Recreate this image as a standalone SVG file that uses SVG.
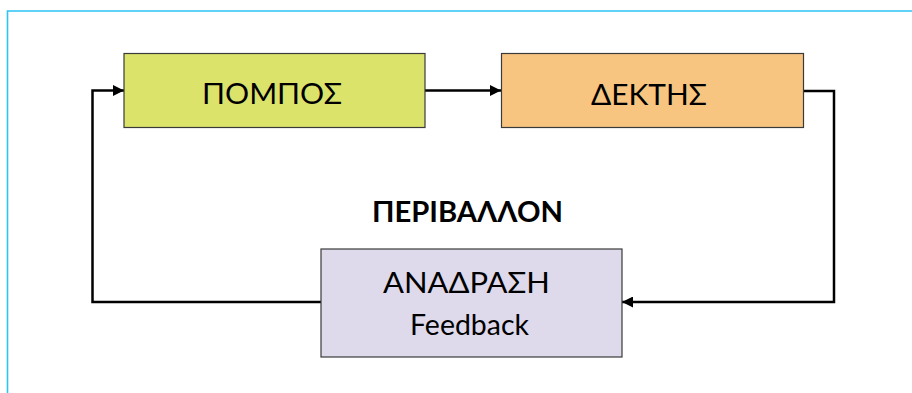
<svg xmlns="http://www.w3.org/2000/svg" width="912" height="393" viewBox="0 0 912 393">
<defs>
<style>
.box{stroke:#3a3a3a;stroke-width:1.2}
.lbl{font-family:"Lato","Open Sans","Liberation Sans",sans-serif;font-size:28px;fill:#000;text-anchor:middle}
.conn{fill:none;stroke:#000;stroke-width:2.5}
</style>
<marker id="arr" viewBox="0 0 10 10" refX="10" refY="5" markerWidth="4.4" markerHeight="4.4" orient="auto" markerUnits="strokeWidth">
<path d="M0,0 L10,5 L0,10 z" fill="#000"/>
</marker>
</defs>
<rect width="912" height="393" fill="#fff"/>
<path d="M7.5,393 V11 H912" fill="none" stroke="#2cc3f5" stroke-width="1.6"/>
<g id="connectors">
<path class="conn" d="M425,90.5 H501" marker-end="url(#arr)"/>
<path class="conn" d="M803,91 H834 V302 H622" marker-end="url(#arr)"/>
<path class="conn" d="M321,302 H92.5 V90.5 H124" marker-end="url(#arr)"/>
</g>
<g id="pompos">
<rect class="box" x="124" y="53.5" width="301" height="74" fill="#dce36a"/>
<text class="lbl" x="272" y="104" textLength="140" lengthAdjust="spacingAndGlyphs">ΠΟΜΠΟΣ</text>
</g>
<g id="dektis">
<rect class="box" x="501.5" y="53.5" width="302" height="74" fill="#f8c581"/>
<text class="lbl" x="649" y="105" textLength="116" lengthAdjust="spacingAndGlyphs">ΔΕΚΤΗΣ</text>
</g>
<g id="perivallon">
<text class="lbl" x="467.5" y="222" style="font-weight:bold;font-size:29px" textLength="191" lengthAdjust="spacingAndGlyphs">ΠΕΡΙΒΑΛΛΟΝ</text>
</g>
<g id="anadrasi">
<rect class="box" x="321" y="249" width="301" height="108" fill="#dedaeb"/>
<text class="lbl" x="466.5" y="293" textLength="167" lengthAdjust="spacingAndGlyphs">ΑΝΑΔΡΑΣΗ</text>
<text class="lbl" x="469.5" y="335" textLength="119" lengthAdjust="spacingAndGlyphs">Feedback</text>
</g>
</svg>
